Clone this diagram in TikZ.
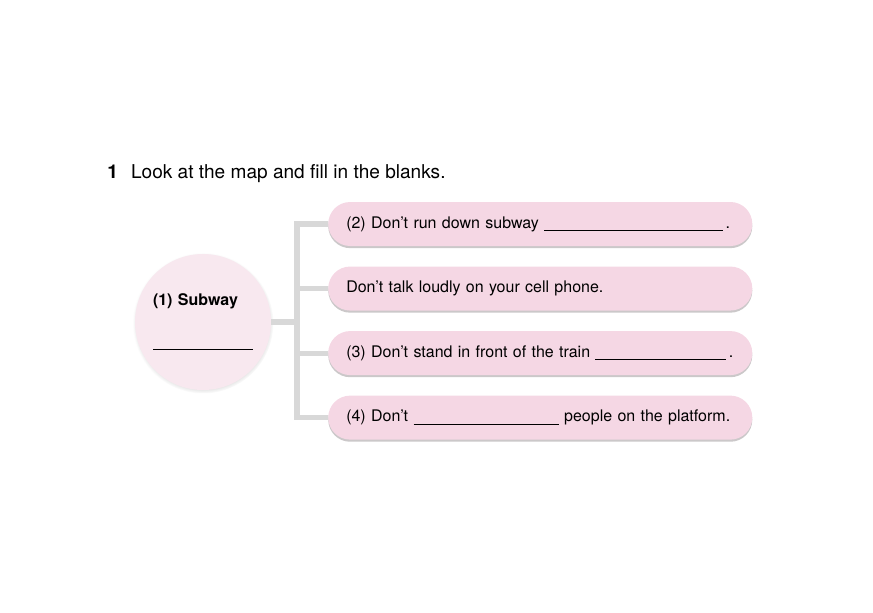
\documentclass[tikz,border=0pt]{standalone}
\usepackage{fontspec}
\setmainfont{TeX Gyre Heros}
\usetikzlibrary{positioning,shadows}

\definecolor{boxpink}{RGB}{245,215,228}
\definecolor{circpink}{RGB}{248,232,239}
\definecolor{bargray}{RGB}{216,216,216}

\newcommand{\blankline}[1]{\rule[-2pt]{#1}{0.6pt}}

\tikzset{
    rulebox/.style={rectangle, rounded corners=16.4pt, fill=boxpink,
        minimum height=33pt, text width=291pt, inner xsep=13.5pt,
        align=left, anchor=west, font=\fontsize{12}{14}\selectfont,
        drop shadow={shadow xshift=0pt, shadow yshift=-1.6pt,
            opacity=0.5, fill=gray!80!boxpink}},
    branch/.style={draw=bargray, line width=3.8pt}
}

\begin{document}
\begin{tikzpicture}[x=0.75pt,y=-0.75pt]
    \useasboundingbox (0,0) rectangle (873,612);

    %-----Heading-----
    \node [anchor=base west, inner sep=0pt, font=\fontsize{14.3}{16}\selectfont\bfseries] (num) at (107,178) {1};
    \node [base right=9.5pt of num, inner sep=0pt, font=\fontsize{14.3}{16}\selectfont] (task) {%
        Look at the map and fill in the blanks.
    };

    %-----Centre-----
    % Subway circle
    \node [circle, fill=circpink, minimum size=102pt, align=left,
        text width=75pt, font=\fontsize{12}{14}\selectfont,
        circular drop shadow={shadow scale=1.035, shadow xshift=0pt,
            shadow yshift=-0.8pt, opacity=0.45}] (sub) at (203,322) {%
        \textbf{(1) Subway} \\[17pt]
        \blankline{75pt}
    };
    \coordinate (hub) at (297,322);

    %-----Rules-----
    % Rule 2
    \node [rulebox] (run) at (328,224) {%
        \mbox{(2) Don’t run down subway \blankline{134pt}\,.}
    };

    % Rule on phones
    \node [rulebox, below=15pt of run.south west, anchor=north west] (talk) {%
        Don’t talk loudly on your cell phone.
    };

    % Rule 3
    \node [rulebox, below=15pt of talk.south west, anchor=north west] (stand) {%
        \mbox{(3) Don’t stand in front of the train \blankline{98pt}\,.}
    };

    % Rule 4
    \node [rulebox, below=15pt of stand.south west, anchor=north west] (push) {%
        \mbox{(4) Don’t \blankline{109pt} people on the platform.}
    };

    %-----Connectors-----
    \draw [branch] (sub.east) -- (hub);
    \draw [branch] (run.west) -| (hub) |- (push.west);
    \draw [branch] (hub |- talk.west) -- (talk.west);
    \draw [branch] (hub |- stand.west) -- (stand.west);

\end{tikzpicture}
\end{document}
